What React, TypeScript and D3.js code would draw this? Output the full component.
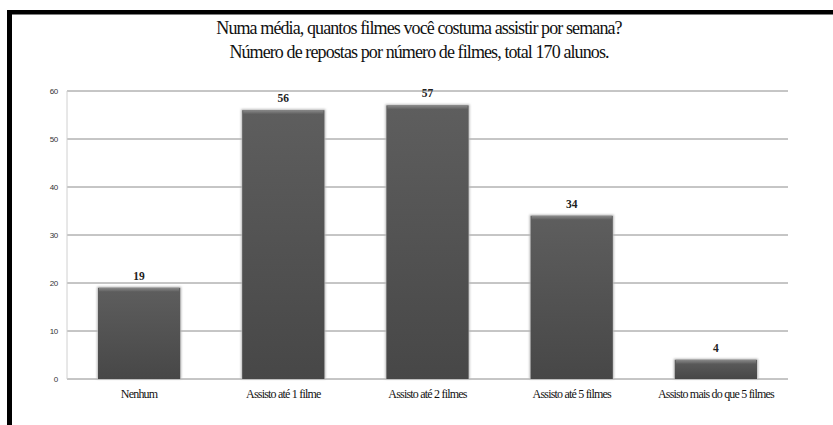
import React from "react";
import * as d3 from "d3";

const categories = [
  "Nenhum",
  "Assisto até 1 filme",
  "Assisto até 2 filmes",
  "Assisto até 5 filmes",
  "Assisto mais do que 5 filmes",
];
const respostas = [19, 56, 57, 34, 4];
const yTicks = [0, 10, 20, 30, 40, 50, 60];
const titleLines = [
  "Numa média, quantos filmes você costuma assistir por semana?",
  "Número de repostas por número de filmes, total 170 alunos.",
];

const W = 833;
const H = 425;
const plot = { left: 67, right: 788, top: 91, bottom: 379 };

const serif = { fontFamily: "'Liberation Serif', 'DejaVu Serif', serif" };
const sans = { fontFamily: "'Liberation Sans', Arial, sans-serif" };

export default function App() {
  const x = d3
    .scaleBand<string>()
    .domain(categories)
    .range([plot.left, plot.right])
    .paddingInner(0.43)
    .paddingOuter(0.215);
  const y = d3.scaleLinear().domain([0, 60]).range([plot.bottom, plot.top]);

  return (
    <svg
      width={W}
      height={H}
      viewBox={`0 0 ${W} ${H}`}
      style={{ position: "absolute", left: 0, top: 0, background: "#fff" }}
    >
      <defs>
        <linearGradient id="barFill" x1="0" y1="0" x2="0" y2="1">
          <stop offset="0" stopColor="#5e5e5e" />
          <stop offset="1" stopColor="#474747" />
        </linearGradient>
        <linearGradient id="barTop" x1="0" y1="0" x2="0" y2="1">
          <stop offset="0" stopColor="#8a8a8a" />
          <stop offset="1" stopColor="#5e5e5e" />
        </linearGradient>
        <filter id="soft" x="-20%" y="-20%" width="140%" height="140%">
          <feGaussianBlur stdDeviation="1.2" />
        </filter>
      </defs>

      {/* frame */}
      <rect x={7} y={10} width={W - 7} height={4.5} fill="#000" />
      <rect x={7} y={10} width={5} height={H - 10} fill="#000" />

      {/* title */}
      {titleLines.map((t, i) => (
        <text
          key={i}
          x={419}
          y={34 + i * 24}
          textAnchor="middle"
          style={{ ...serif, fontSize: 18, letterSpacing: -0.9 }}
          fill="#111"
        >
          {t}
        </text>
      ))}

      {/* gridlines and y labels */}
      {yTicks.map((v) => (
        <g key={v}>
          <line
            x1={plot.left}
            x2={plot.right}
            y1={y(v)}
            y2={y(v)}
            stroke="#8c8c8c"
            strokeWidth={1}
          />
          <text
            x={plot.left - 9}
            y={y(v) + 3}
            textAnchor="end"
            style={{ ...sans, fontSize: 8, letterSpacing: -0.3 }}
            fill="#333"
          >
            {v}
          </text>
        </g>
      ))}
      <line
        x1={plot.left}
        x2={plot.left}
        y1={plot.top}
        y2={plot.bottom}
        stroke="#d0d0d0"
        strokeWidth={1}
      />

      {/* bars */}
      {categories.map((c, i) => {
        const bx = x(c)!;
        const bw = x.bandwidth();
        const top = y(respostas[i]);
        const h = plot.bottom - top;
        return (
          <g key={c}>
            <rect
              x={bx - 1}
              y={top - 1}
              width={bw + 2}
              height={h + 1}
              fill="#b5b5b5"
              filter="url(#soft)"
            />
            <rect x={bx} y={top} width={bw} height={h} fill="url(#barFill)" />
            <rect
              x={bx + 1}
              y={top}
              width={bw - 2}
              height={Math.min(4, h)}
              fill="url(#barTop)"
            />
            <text
              x={bx + bw / 2}
              y={top - 8}
              textAnchor="middle"
              style={{ ...serif, fontSize: 11.5, fontWeight: "bold" }}
              fill="#222"
            >
              {respostas[i]}
            </text>
            <text
              x={bx + bw / 2}
              y={plot.bottom + 19}
              textAnchor="middle"
              style={{ ...serif, fontSize: 12, letterSpacing: -0.8 }}
              fill="#111"
            >
              {c}
            </text>
          </g>
        );
      })}
    </svg>
  );
}
